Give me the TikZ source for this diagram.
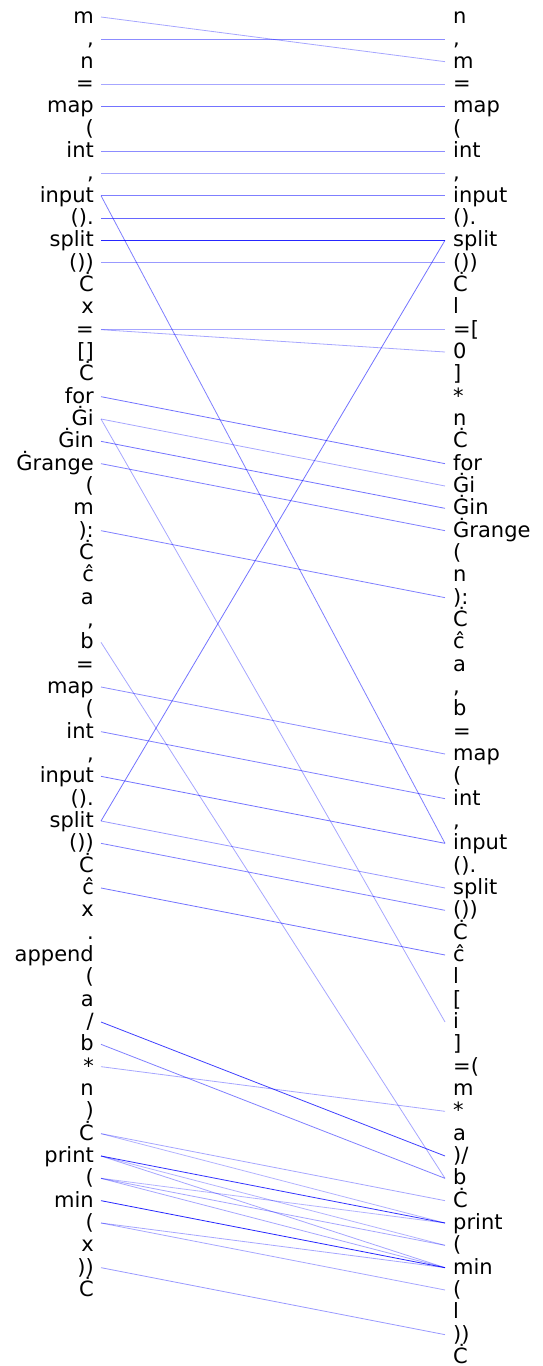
\documentclass[tikz,border=0pt]{standalone}
\usepackage{fontspec}
\setmainfont{DejaVu Sans}
\tikzset{
 tok/.style={inner sep=0pt, font=\fontsize{21pt}{21pt}\selectfont, text=black},
 lt/.style={tok, anchor=base east},
 rt/.style={tok, anchor=base west},
 link/.style={draw=blue, line width=0.8pt, draw opacity=#1},
 link/.default=0.35,
}
\newcommand\lefttok[2]{\node[lt] (l#1) at (94,{23.5+(#1-1)*22.333}) {#2}; \coordinate (lp#1) at (101,{17+(#1-1)*22.333});}
\newcommand\righttok[2]{\node[rt] (r#1) at (453,{23.5+(#1-1)*22.333}) {#2}; \coordinate (rp#1) at (445,{17+(#1-1)*22.333});}
\newcommand\tokline[3]{\draw[link=#3] (lp#1) -- (rp#2);}
\begin{document}
\begin{tikzpicture}[x=1pt,y=-1pt]
\useasboundingbox (0,0) rectangle (543,1366);
% left tokens
\lefttok{1}{m}
\lefttok{2}{,}
\lefttok{3}{n}
\lefttok{4}{=}
\lefttok{5}{map}
\lefttok{6}{(}
\lefttok{7}{int}
\lefttok{8}{,}
\lefttok{9}{input}
\lefttok{10}{().}
\lefttok{11}{split}
\lefttok{12}{())}
\lefttok{13}{Ċ}
\lefttok{14}{x}
\lefttok{15}{=}
\lefttok{16}{[]}
\lefttok{17}{Ċ}
\lefttok{18}{for}
\lefttok{19}{Ġi}
\lefttok{20}{Ġin}
\lefttok{21}{Ġrange}
\lefttok{22}{(}
\lefttok{23}{m}
\lefttok{24}{):}
\lefttok{25}{Ċ}
\lefttok{26}{ĉ}
\lefttok{27}{a}
\lefttok{28}{,}
\lefttok{29}{b}
\lefttok{30}{=}
\lefttok{31}{map}
\lefttok{32}{(}
\lefttok{33}{int}
\lefttok{34}{,}
\lefttok{35}{input}
\lefttok{36}{().}
\lefttok{37}{split}
\lefttok{38}{())}
\lefttok{39}{Ċ}
\lefttok{40}{ĉ}
\lefttok{41}{x}
\lefttok{42}{.}
\lefttok{43}{append}
\lefttok{44}{(}
\lefttok{45}{a}
\lefttok{46}{/}
\lefttok{47}{b}
\lefttok{48}{*}
\lefttok{49}{n}
\lefttok{50}{)}
\lefttok{51}{Ċ}
\lefttok{52}{print}
\lefttok{53}{(}
\lefttok{54}{min}
\lefttok{55}{(}
\lefttok{56}{x}
\lefttok{57}{))}
\lefttok{58}{Ċ}
% right tokens
\righttok{1}{n}
\righttok{2}{,}
\righttok{3}{m}
\righttok{4}{=}
\righttok{5}{map}
\righttok{6}{(}
\righttok{7}{int}
\righttok{8}{,}
\righttok{9}{input}
\righttok{10}{().}
\righttok{11}{split}
\righttok{12}{())}
\righttok{13}{Ċ}
\righttok{14}{l}
\righttok{15}{=[}
\righttok{16}{0}
\righttok{17}{]}
\righttok{18}{*}
\righttok{19}{n}
\righttok{20}{Ċ}
\righttok{21}{for}
\righttok{22}{Ġi}
\righttok{23}{Ġin}
\righttok{24}{Ġrange}
\righttok{25}{(}
\righttok{26}{n}
\righttok{27}{):}
\righttok{28}{Ċ}
\righttok{29}{ĉ}
\righttok{30}{a}
\righttok{31}{,}
\righttok{32}{b}
\righttok{33}{=}
\righttok{34}{map}
\righttok{35}{(}
\righttok{36}{int}
\righttok{37}{,}
\righttok{38}{input}
\righttok{39}{().}
\righttok{40}{split}
\righttok{41}{())}
\righttok{42}{Ċ}
\righttok{43}{ĉ}
\righttok{44}{l}
\righttok{45}{[}
\righttok{46}{i}
\righttok{47}{]}
\righttok{48}{=(}
\righttok{49}{m}
\righttok{50}{*}
\righttok{51}{a}
\righttok{52}{)/}
\righttok{53}{b}
\righttok{54}{Ċ}
\righttok{55}{print}
\righttok{56}{(}
\righttok{57}{min}
\righttok{58}{(}
\righttok{59}{l}
\righttok{60}{))}
\righttok{61}{Ċ}
% links
\tokline{1}{3}{0.35}
\tokline{2}{2}{0.45}
\tokline{4}{4}{0.35}
\tokline{5}{5}{0.55}
\tokline{7}{7}{0.45}
\tokline{8}{8}{0.35}
\tokline{9}{9}{0.5}
\tokline{9}{38}{0.5}
\tokline{10}{10}{0.6}
\tokline{11}{11}{0.85}
\tokline{12}{12}{0.4}
\tokline{15}{15}{0.35}
\tokline{15}{16}{0.35}
\tokline{18}{21}{0.55}
\tokline{19}{22}{0.35}
\tokline{19}{46}{0.35}
\tokline{20}{23}{0.55}
\tokline{21}{24}{0.5}
\tokline{24}{27}{0.5}
\tokline{29}{53}{0.35}
\tokline{31}{34}{0.45}
\tokline{33}{36}{0.5}
\tokline{35}{38}{0.55}
\tokline{37}{11}{0.55}
\tokline{37}{40}{0.4}
\tokline{38}{41}{0.5}
\tokline{40}{43}{0.55}
\tokline{46}{52}{0.75}
\tokline{47}{53}{0.5}
\tokline{48}{50}{0.35}
\tokline{51}{54}{0.35}
\tokline{51}{55}{0.3}
\tokline{52}{55}{0.8}
\tokline{52}{56}{0.3}
\tokline{52}{57}{0.35}
\tokline{53}{55}{0.3}
\tokline{53}{56}{0.35}
\tokline{53}{57}{0.35}
\tokline{54}{57}{0.85}
\tokline{55}{57}{0.35}
\tokline{55}{58}{0.35}
\tokline{57}{60}{0.4}
\end{tikzpicture}
\end{document}
